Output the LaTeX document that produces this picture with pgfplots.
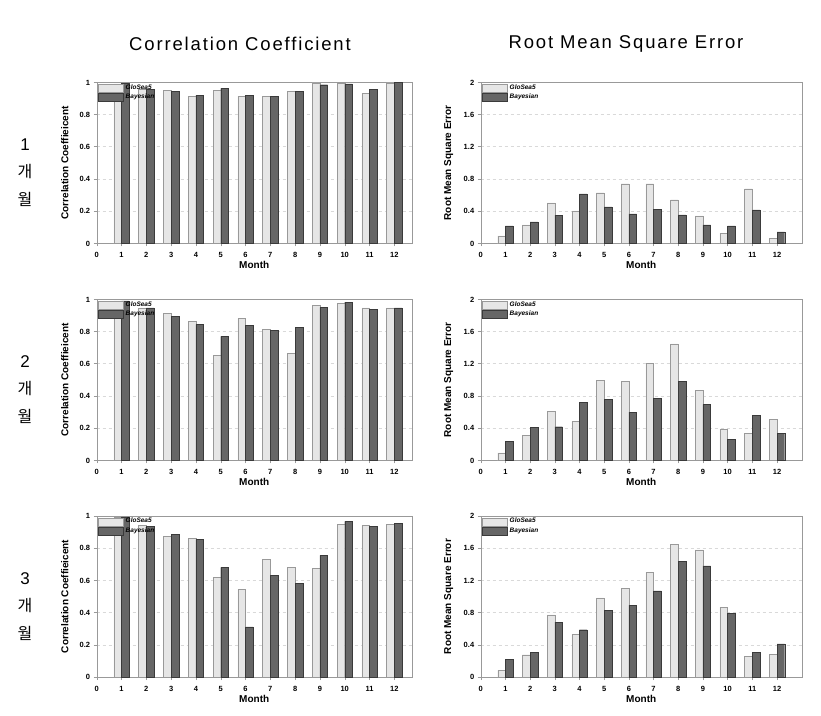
\documentclass[border=0pt]{standalone}
\usepackage{fontspec}
\setmainfont{Liberation Sans}
\newfontfamily\titlefont[LetterSpace=10]{Liberation Sans}
\newfontfamily\kr{Noto Sans CJK KR}
\usepackage{pgfplots}
\pgfplotsset{compat=1.18}

\definecolor{lightbar}{HTML}{E6E6E6}
\definecolor{lightedge}{HTML}{999999}
\definecolor{darkbar}{HTML}{666666}
\definecolor{darkedge}{HTML}{3A3A3A}

\pgfplotsset{
  panel/.style={
    anchor=north west, scale only axis, height=161pt,
    xmin=0, ymin=0,
    xtick={0,1,2,3,4,5,6,7,8,9,10,11,12},
    axis line style={draw=gray!80},
    tick style={draw=gray!80, thin},
    tick align=outside, major tick length=3pt,
    xtick pos=bottom, ytick pos=left,
    ymajorgrids, grid style={dashed, gray!30},
    tick label style={font=\fontsize{7.5}{8}\selectfont\bfseries},
    xticklabel style={text height=5.5pt, text depth=0pt, yshift=-2pt},
    yticklabel style={text height=5.5pt, text depth=0pt},
    /pgf/number format/assume math mode=true,
    xlabel={Month},
    every axis x label/.style={at={(rel axis cs:0.5,0)}, yshift=-22pt, anchor=center, font=\fontsize{10}{12}\selectfont\bfseries},
    every axis y label/.style={at={(rel axis cs:0,0.5)}, xshift=-32pt, rotate=90, anchor=center, font=\fontsize{10}{12}\selectfont\bfseries},
    legend style={at={(0,1)}, anchor=north west, draw=none, fill=none,
      inner sep=0pt, outer sep=0pt, xshift=1.3pt, yshift=-1pt,
      font=\fontsize{6.5}{7}\selectfont\bfseries\itshape, row sep=0pt, column sep=1.5pt,
      nodes={inner sep=0.8pt, text height=5pt, text depth=3pt}},
    legend cell align=left,
  },
  cc/.style={panel, width=315pt, xmax=12.7, ymax=1, ytick={0,0.2,0.4,0.6,0.8,1}, ylabel={Correlation Coeffieicent}},
  rm/.style={panel, width=321pt, xmax=13, ymax=2, ytick={0,0.4,0.8,1.2,1.6,2}, ylabel={Root Mean Square Error}},
  gs/.style={ybar, bar width=7.7pt, bar shift=-3.85pt, fill=lightbar, draw=lightedge,
    legend image code/.code={\draw[fill=lightbar, draw=lightedge] (0pt,-4pt) rectangle (25pt,4pt);}},
  by/.style={ybar, bar width=7.7pt, bar shift=3.85pt, fill=darkbar, draw=darkedge,
    legend image code/.code={\draw[fill=darkbar, draw=darkedge] (0pt,-4pt) rectangle (25pt,4pt);}},
}

\begin{document}
\begin{tikzpicture}
\path[use as bounding box] (0pt,0pt) rectangle (821pt,715pt);

% titles
\node[font=\titlefont\fontsize{18.5}{20}\selectfont] at (240pt,671pt) {Correlation Coefficient};
\node[font=\titlefont\fontsize{18.5}{20}\selectfont] at (626pt,671pt) {Root Mean Square Error};

% row labels
\foreach \n/\yy in {1/570, 2/353, 3/136}{
  \node[font=\fontsize{17}{18}\selectfont] at (25pt,\yy pt) {\n};
  \node[font=\kr\fontsize{16}{18}\selectfont] at (25pt,\yy pt-27pt) {개};
  \node[font=\kr\fontsize{16}{18}\selectfont] at (25pt,\yy pt-54pt) {월};
}

% ---------------- Row 1 ----------------
\begin{axis}[cc, at={(96.7pt,632.7pt)}]
\addplot[gs] coordinates {(1,0.99) (2,0.96) (3,0.950) (4,0.913) (5,0.950) (6,0.913) (7,0.913) (8,0.944) (9,0.996) (10,0.994) (11,0.931) (12,0.996)};
\addplot[by] coordinates {(1,0.995) (2,0.958) (3,0.944) (4,0.921) (5,0.963) (6,0.921) (7,0.913) (8,0.944) (9,0.985) (10,0.990) (11,0.956) (12,1.0)};
\legend{GloSea5, Bayesian}
\end{axis}
\begin{axis}[rm, at={(480.7pt,632.7pt)}]
\addplot[gs] coordinates {(1,0.091) (2,0.229) (3,0.503) (4,0.403) (5,0.628) (6,0.740) (7,0.740) (8,0.541) (9,0.341) (10,0.125) (11,0.678) (12,0.062)};
\addplot[by] coordinates {(1,0.216) (2,0.266) (3,0.349) (4,0.615) (5,0.453) (6,0.366) (7,0.420) (8,0.353) (9,0.229) (10,0.216) (11,0.416) (12,0.141)};
\legend{GloSea5, Bayesian}
\end{axis}

% ---------------- Row 2 ----------------
\begin{axis}[cc, at={(96.7pt,415.7pt)}]
\addplot[gs] coordinates {(1,0.99) (2,0.946) (3,0.913) (4,0.863) (5,0.650) (6,0.881) (7,0.813) (8,0.663) (9,0.963) (10,0.975) (11,0.946) (12,0.946)};
\addplot[by] coordinates {(1,0.99) (2,0.946) (3,0.896) (4,0.844) (5,0.769) (6,0.838) (7,0.806) (8,0.825) (9,0.950) (10,0.983) (11,0.938) (12,0.946)};
\legend{GloSea5, Bayesian}
\end{axis}
\begin{axis}[rm, at={(480.7pt,415.7pt)}]
\addplot[gs] coordinates {(1,0.091) (2,0.314) (3,0.612) (4,0.483) (5,0.996) (6,0.983) (7,1.207) (8,1.446) (9,0.872) (10,0.388) (11,0.335) (12,0.508)};
\addplot[by] coordinates {(1,0.236) (2,0.405) (3,0.417) (4,0.719) (5,0.760) (6,0.599) (7,0.773) (8,0.983) (9,0.694) (10,0.260) (11,0.562) (12,0.331)};
\legend{GloSea5, Bayesian}
\end{axis}

% ---------------- Row 3 ----------------
\begin{axis}[cc, at={(96.7pt,199pt)}]
\addplot[gs] coordinates {(1,0.99) (2,0.942) (3,0.874) (4,0.861) (5,0.619) (6,0.545) (7,0.731) (8,0.681) (9,0.675) (10,0.950) (11,0.942) (12,0.948)};
\addplot[by] coordinates {(1,0.995) (2,0.935) (3,0.884) (4,0.855) (5,0.681) (6,0.311) (7,0.631) (8,0.582) (9,0.756) (10,0.967) (11,0.936) (12,0.954)};
\legend{GloSea5, Bayesian}
\end{axis}
\begin{axis}[rm, at={(480.7pt,199pt)}]
\addplot[gs] coordinates {(1,0.083) (2,0.277) (3,0.773) (4,0.533) (5,0.983) (6,1.103) (7,1.302) (8,1.649) (9,1.579) (10,0.868) (11,0.260) (12,0.285)};
\addplot[by] coordinates {(1,0.215) (2,0.302) (3,0.682) (4,0.587) (5,0.831) (6,0.893) (7,1.070) (8,1.434) (9,1.380) (10,0.793) (11,0.302) (12,0.413)};
\legend{GloSea5, Bayesian}
\end{axis}
\end{tikzpicture}
\end{document}
